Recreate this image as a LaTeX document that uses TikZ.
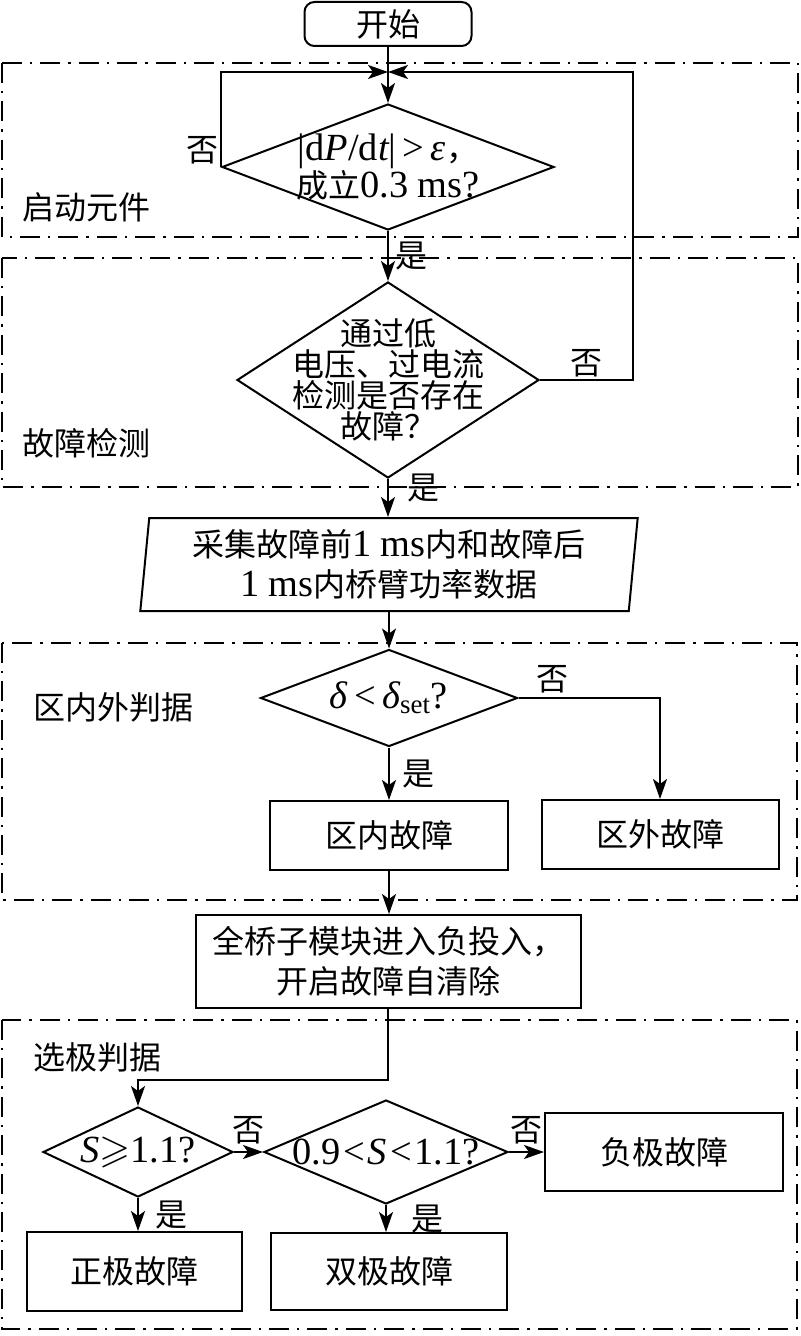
\documentclass[tikz,border=0pt]{standalone}
\usepackage{amssymb}
\usepackage{fontspec}
\setmainfont{Noto Sans CJK SC}
\newfontfamily\tnr[Scale=1.2]{Liberation Serif}
\usepackage{tikz}
\usetikzlibrary{arrows.meta,positioning,shapes.geometric}

\begin{document}
\begin{tikzpicture}[
  x=0.5pt, y=-0.5pt,
  every node/.style={font=\fontsize{16}{20}\selectfont},
  startbox/.style={draw, line width=1pt, rounded corners=5pt, minimum width=83.5pt, minimum height=22pt, inner sep=0pt},
  proc/.style={draw, line width=1pt, align=center, inner sep=0pt},
  decide/.style={draw, diamond, line width=1pt, align=center, inner sep=-25pt, font=\fontsize{16}{15.5}\selectfont},
  iobox/.style={draw, trapezium, trapezium left angle=84, trapezium right angle=96, trapezium stretches=true, line width=1pt, align=center, inner sep=0pt},
  zone/.style={line width=1pt, dash pattern=on 10pt off 4pt on 1.2pt off 4pt},
  grp/.style={anchor=west, inner sep=0pt},
  arr/.style={-{Stealth[length=10pt,width=7pt,inset=2.5pt]}, line width=1pt}
]
\useasboundingbox (0,0) rectangle (801,1336);

\draw[zone] (2,63) rectangle (798,237);
\draw[zone] (2,258) rectangle (798,487);
\draw[zone] (2,643) rectangle (797,900);
\draw[zone] (2,1020) rectangle (797,1329);

\node[grp] (g1) at (22,207) {启动元件};
\node[grp] (g2) at (22,443) {故障检测};
\node[grp] (g3) at (33,707) {区内外判据};
\node[grp] (g4) at (33,1057) {选极判据};

\node[startbox] (start) at (388,24) {开始};
\node[decide, minimum width=166pt, minimum height=63pt] (d1) at (388,167)
  {{\tnr |d{\itshape P}/d{\itshape t}|\,>\,{\itshape ε}}，\\成立{\tnr 0.3 ms?}};
\node[decide, minimum width=151pt, minimum height=98pt] (d2) at (388,380)
  {通过低\\电压、过电流\\检测是否存在\\故障？};
\node[iobox, minimum width=249.5pt, minimum height=46.5pt] (io) at (389,564.5)
  {采集故障前{\tnr 1 ms}内和故障后\\{\tnr 1 ms}内桥臂功率数据};
\node[decide, minimum width=128.5pt, minimum height=48.5pt] (d3) at (389,698)
  {{\tnr{\itshape δ}\,<\,{\itshape δ}\textsubscript{set}?}};
\node[proc, minimum width=119pt, minimum height=34.5pt] (inner) at (389,835.5) {区内故障};
\node[proc, minimum width=118.5pt, minimum height=34.5pt] (outer) at (660,834.5) {区外故障};
\node[proc, minimum width=192.5pt, minimum height=46.5pt] (qiao) at (388,961.5)
  {全桥子模块进入负投入，\\开启故障自清除};
\node[decide, minimum width=95pt, minimum height=45pt] (d4) at (138,1152)
  {{\tnr\itshape S}{\fontsize{20}{20}\selectfont$\geqslant$}{\tnr 1.1?}};
\node[decide, minimum width=122pt, minimum height=52pt] (d5) at (386,1152)
  {{\tnr 0.9\kern1.5pt<\kern1.5pt{\itshape S}\kern1.5pt<\kern1.5pt1.1?}};
\node[proc, minimum width=119pt, minimum height=39pt] (neg) at (664,1152) {负极故障};
\node[proc, minimum width=107.5pt, minimum height=39.5pt] (pos) at (134.5,1271.5) {正极故障};
\node[proc, minimum width=118pt, minimum height=38.5pt] (bi) at (389,1271.5) {双极故障};

\coordinate (join) at (388,72);
\coordinate (rx) at (633,72);

\draw[arr] (start.south) -- (d1.north);
\draw[arr] (d1.west) node[above left, inner sep=1pt] (n1) {否} |- (join);
\draw[arr] (d2.east) -- node[above, inner sep=1pt] (n2) {否} (d2.east-|rx) |- (join);
\draw[arr] (d1.south) -- node[right] (y1) {是} (d2.north);
\draw[arr] (d2.south) -- node[pos=0.25, right, xshift=6pt] (y2) {是} (io.north-|d2.south);
\draw[arr] (io.south-|d3.north) -- (d3.north);
\draw[arr] (d3.east) -| node[pos=0.12, above, inner sep=2pt] (n3) {否} (outer.north);
\draw[arr] (d3.south) -- node[right, xshift=3pt] (y3) {是} (inner.north);
\draw[arr] (inner.south) -- (inner.south|-qiao.north);
\draw[arr] (qiao.south) -- ++(0,71) -| (d4.north);
\draw[arr] (d4.east) -- node[above] (n4) {否} (d5.west);
\draw[arr] (d5.east) -- node[above] (n5) {否} (neg.west);
\draw[arr] (d4.south) -- node[right, xshift=5pt] (y4) {是} (d4.south|-pos.north);
\draw[arr] (d5.south) -- node[right, xshift=9pt] (y5) {是} (d5.south|-bi.north);
\end{tikzpicture}
\end{document}
